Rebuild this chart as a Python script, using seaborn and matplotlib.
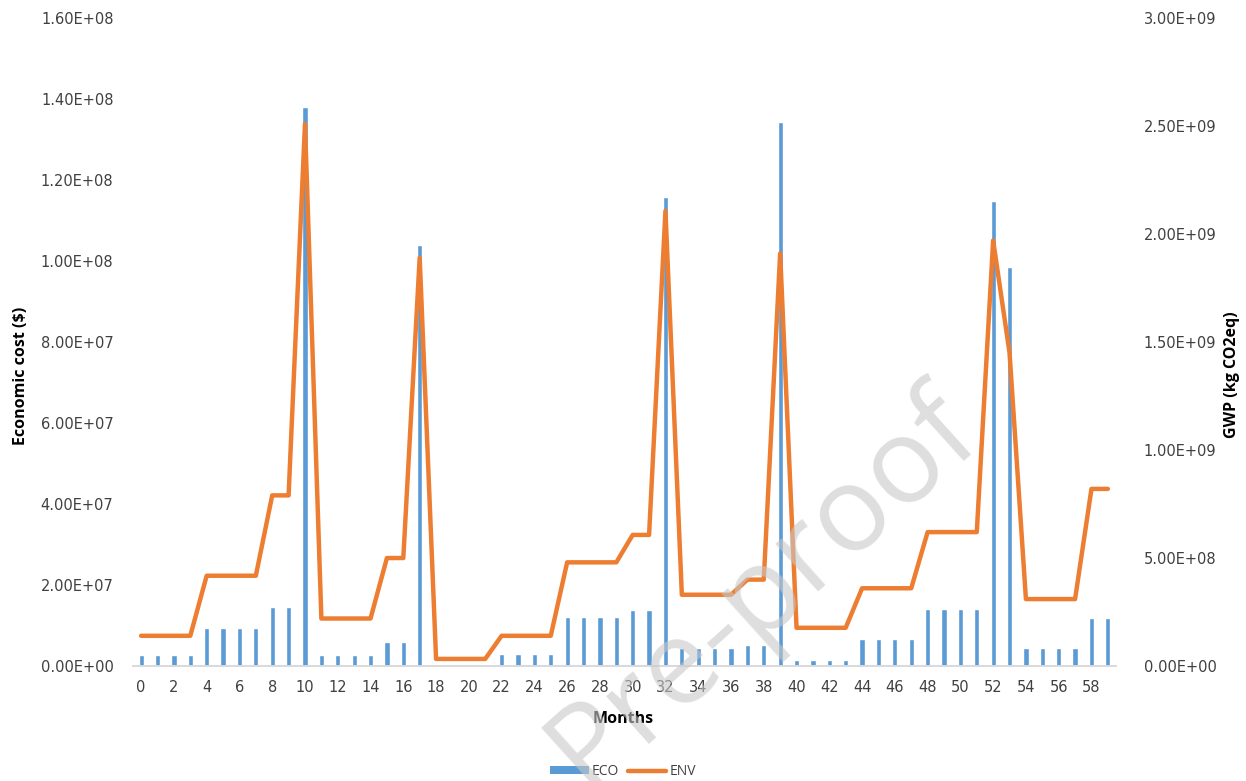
import numpy as np
import pandas as pd
import seaborn as sns
import matplotlib.pyplot as plt
from matplotlib.ticker import FuncFormatter, MultipleLocator
from matplotlib.patches import Patch
from matplotlib.lines import Line2D

months = list(range(60))

# economic cost per month ($)
eco = [2.7e6, 2.7e6, 2.7e6, 2.7e6, 9.3e6, 9.3e6, 9.3e6, 9.3e6, 14.6e6, 14.6e6,
       137.9e6, 2.7e6, 2.7e6, 2.7e6, 2.7e6, 5.9e6, 5.9e6, 103.9e6, 0, 0,
       0, 0, 2.9e6, 2.9e6, 2.9e6, 2.9e6, 12.0e6, 12.0e6, 12.0e6, 12.0e6,
       13.9e6, 13.9e6, 115.9e6, 4.4e6, 4.4e6, 4.4e6, 4.4e6, 5.3e6, 5.3e6, 134.2e6,
       1.6e6, 1.6e6, 1.6e6, 1.6e6, 6.6e6, 6.6e6, 6.6e6, 6.6e6, 14.1e6, 14.1e6,
       14.1e6, 14.1e6, 114.7e6, 98.5e6, 4.5e6, 4.5e6, 4.5e6, 4.5e6, 11.9e6, 11.9e6]

# GWP per month (kg CO2eq)
env = [1.4e8, 1.4e8, 1.4e8, 1.4e8, 4.18e8, 4.18e8, 4.18e8, 4.18e8, 7.9e8, 7.9e8,
       2.51e9, 2.2e8, 2.2e8, 2.2e8, 2.2e8, 5.0e8, 5.0e8, 1.89e9, 3.3e7, 3.3e7,
       3.3e7, 3.3e7, 1.4e8, 1.4e8, 1.4e8, 1.4e8, 4.8e8, 4.8e8, 4.8e8, 4.8e8,
       6.07e8, 6.07e8, 2.107e9, 3.3e8, 3.3e8, 3.3e8, 3.3e8, 4.0e8, 4.0e8, 1.91e9,
       1.77e8, 1.77e8, 1.77e8, 1.77e8, 3.6e8, 3.6e8, 3.6e8, 3.6e8, 6.2e8, 6.2e8,
       6.2e8, 6.2e8, 1.97e9, 1.45e9, 3.1e8, 3.1e8, 3.1e8, 3.1e8, 8.2e8, 8.2e8]

df = pd.DataFrame({"Month": months, "ECO": eco, "ENV": env})

blue = "#5B9BD5"
orange = "#ED7D31"

sns.set_style("white")
plt.rcParams["font.family"] = ["DejaVu Sans"]

fig = plt.figure(figsize=(12.46, 7.81), dpi=100)
ax = fig.add_axes([0.1067, 0.1472, 0.789, 0.8298])

sns.barplot(data=df, x="Month", y="ECO", color=blue, width=0.32,
            saturation=1, ax=ax, zorder=2)
ax.set_xlim(-0.5, 59.5)
ax.set_ylim(0, 1.6e8)
ax.yaxis.set_major_locator(MultipleLocator(2e7))
ax.yaxis.set_major_formatter(FuncFormatter(lambda v, p: f"{v:.2E}"))
ax.set_xticks(range(0, 60, 2))
ax.set_xticklabels([str(m) for m in range(0, 60, 2)])

ax2 = ax.twinx()
sns.lineplot(data=df, x="Month", y="ENV", color=orange, linewidth=3.2,
             ax=ax2, zorder=3)
ax2.set_ylim(0, 3.0e9)
ax2.yaxis.set_major_locator(MultipleLocator(5e8))
ax2.yaxis.set_major_formatter(FuncFormatter(lambda v, p: f"{v:.2E}"))
ax2.set_xlim(-0.5, 59.5)

for a in (ax, ax2):
    for s in ["top", "left", "right"]:
        a.spines[s].set_visible(False)
    a.spines["bottom"].set_color("#d9d9d9")
    a.spines["bottom"].set_linewidth(1.2)
    a.tick_params(length=0, labelsize=10.5, colors="#404040")
ax.tick_params(axis="y", pad=14)
ax.tick_params(axis="x", pad=10)
ax2.tick_params(axis="y", pad=20)

label_font = dict(family=["Open Sans", "DejaVu Sans"], fontsize=11.5,
                  fontweight="bold", color="black")
ax.set_xlabel("")
ax.set_ylabel("")
ax2.set_ylabel("")
fig.text(0.0165, 0.519, "Economic cost ($)", rotation=90, ha="center",
         va="center", **label_font)
fig.text(0.989, 0.52, "GWP (kg CO2eq)", rotation=90, ha="center",
         va="center", **label_font)
fig.text(0.5, 0.079, "Months", ha="center", va="center", **label_font)

handles = [Patch(facecolor=blue, edgecolor="none"),
           Line2D([0], [0], color=orange, linewidth=3.2)]
fig.legend(handles, ["ECO", "ENV"], loc="center", bbox_to_anchor=(0.5, 0.012),
           ncol=2, frameon=False, handlelength=2.8,
           handleheight=0.5, columnspacing=0.6, handletextpad=0.2,
           labelcolor="#404040", prop={"family": ["Open Sans", "DejaVu Sans"], "size": 10})

# watermark
fig.text(0.612, 0.245, "Pre-proof", rotation=42, ha="center", va="center",
         fontsize=86, color="#c8c8c8", alpha=0.6, zorder=10,
         family=["Open Sans", "DejaVu Sans"])

fig.savefig("out.png", dpi=100)
